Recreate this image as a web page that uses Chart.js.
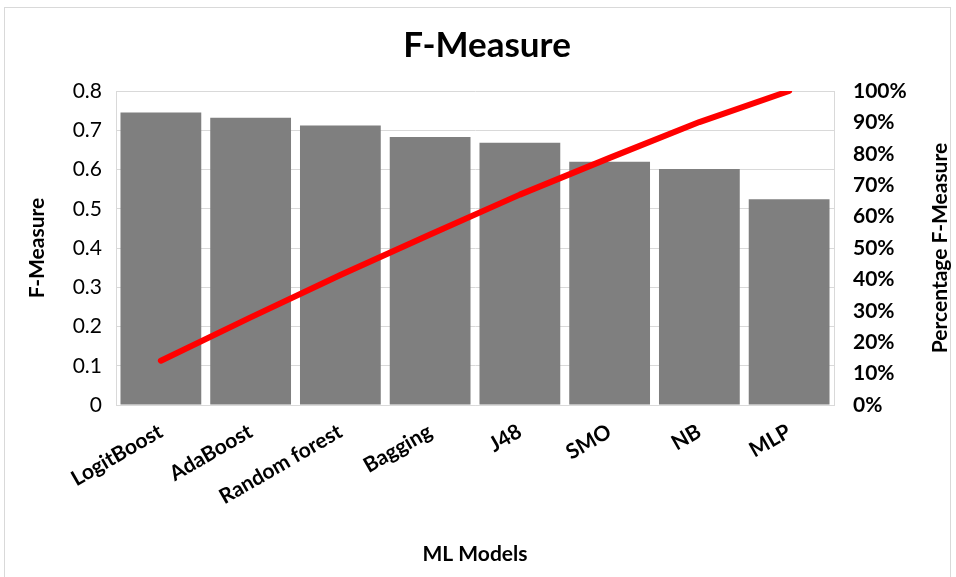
<!DOCTYPE html>
<html>
<head>
<meta charset="utf-8">
<title>F-Measure</title>
<script src="https://cdn.jsdelivr.net/npm/chart.js@4/dist/chart.umd.min.js"></script>
<style>
  html, body { margin: 0; padding: 0; background: #ffffff; }
  #wrap { width: 956px; height: 577px; position: relative; }
</style>
</head>
<body>
<div id="wrap"><canvas id="chart" width="956" height="577"></canvas></div>
<script>
// Models, ordered from best to worst F-Measure
const models = ['LogitBoost', 'AdaBoost', 'Random forest', 'Bagging', 'J48', 'SMO', 'NB', 'MLP'];
// F-Measure per model (left axis)
const fMeasure = [0.745, 0.732, 0.712, 0.683, 0.668, 0.620, 0.601, 0.524];
// Cumulative share of the total F-Measure (right axis, 0..1)
const cumulativeShare = [0.141, 0.279, 0.414, 0.543, 0.670, 0.787, 0.901, 1.0];
// Axis ranges
const leftTicks = { min: 0, max: 0.8, step: 0.1 };
const rightTicks = { min: 0, max: 1, step: 0.1 };

const FONT = 'Lato, "Open Sans", sans-serif';
const GRID = '#d9d9d9';
const PAD_LEFT = 18;

// Outer frame and the right-hand axis title (reads bottom to top)
const decorations = {
  id: 'decorations',
  beforeDraw(chart) {
    const ctx = chart.ctx;
    ctx.save();
    ctx.strokeStyle = '#d9d9d9';
    ctx.lineWidth = 1;
    ctx.strokeRect(4.5, 7.5, 946, 580);
    ctx.restore();
  },
  afterDraw(chart) {
    const ctx = chart.ctx;
    const area = chart.chartArea;
    ctx.save();
    ctx.fillStyle = '#000';
    ctx.font = '700 21px ' + FONT;
    ctx.textAlign = 'center';
    ctx.textBaseline = 'middle';
    ctx.translate(940, (area.top + area.bottom) / 2);
    ctx.rotate(-Math.PI / 2);
    ctx.fillText('Percentage F-Measure', 0, 0);
    ctx.restore();
  }
};

new Chart(document.getElementById('chart'), {
  data: {
    labels: models,
    datasets: [
      {
        type: 'line',
        label: 'Cumulative %',
        data: cumulativeShare,
        yAxisID: 'y1',
        borderColor: '#ff0000',
        borderWidth: 6,
        borderCapStyle: 'round',
        borderJoinStyle: 'round',
        pointRadius: 0,
        tension: 0,
        order: 0
      },
      {
        type: 'bar',
        label: 'F-Measure',
        data: fMeasure,
        yAxisID: 'y',
        backgroundColor: '#7f7f7f',
        borderWidth: 0,
        categoryPercentage: 1,
        barPercentage: 0.9,
        order: 1
      }
    ]
  },
  options: {
    responsive: false,
    animation: false,
    devicePixelRatio: 1,
    layout: { padding: { left: PAD_LEFT, right: 0, top: 0, bottom: 0 } },
    plugins: {
      legend: { display: false },
      tooltip: { enabled: false },
      title: {
        display: true,
        text: 'F-Measure',
        color: '#000',
        font: { family: FONT, size: 35, weight: '700', lineHeight: 1.2 },
        padding: { top: 25, bottom: 24 }
      }
    },
    scales: {
      x: {
        grid: { display: false, drawTicks: false },
        border: { display: true, color: GRID, width: 1 },
        ticks: {
          color: '#000',
          font: { family: FONT, size: 21, weight: '700' },
          maxRotation: 30,
          minRotation: 30,
          padding: 14,
          autoSkip: false
        },
        title: {
          display: true,
          text: 'ML Models',
          color: '#000',
          font: { family: FONT, size: 21, weight: '700', lineHeight: 1.2 },
          padding: { top: 0, bottom: 10 }
        },
        afterFit(scale) { scale.height = 172; }
      },
      y: {
        position: 'left',
        min: leftTicks.min,
        max: leftTicks.max,
        grid: { color: GRID, lineWidth: 1, drawTicks: false },
        border: { display: true, color: GRID, width: 1 },
        ticks: {
          stepSize: leftTicks.step,
          color: '#000',
          font: { family: FONT, size: 21 },
          padding: 14,
          callback: (v) => String(Number(v.toFixed(1)))
        },
        title: {
          display: true,
          text: 'F-Measure',
          color: '#000',
          font: { family: FONT, size: 21, weight: '700', lineHeight: 1.2 },
          padding: { top: 7, bottom: 0 }
        },
        afterFit(scale) { scale.width = 116 - PAD_LEFT; }
      },
      y1: {
        position: 'right',
        min: rightTicks.min,
        max: rightTicks.max,
        grid: { display: false, drawOnChartArea: false, drawTicks: false },
        border: { display: true, color: GRID, width: 1 },
        ticks: {
          stepSize: rightTicks.step,
          color: '#000',
          font: { family: FONT, size: 21, weight: '700' },
          padding: 19,
          callback: (v) => Math.round(v * 100) + '%'
        },
        afterFit(scale) { scale.width = 122; }
      }
    }
  },
  plugins: [decorations]
});
</script>
</body>
</html>
